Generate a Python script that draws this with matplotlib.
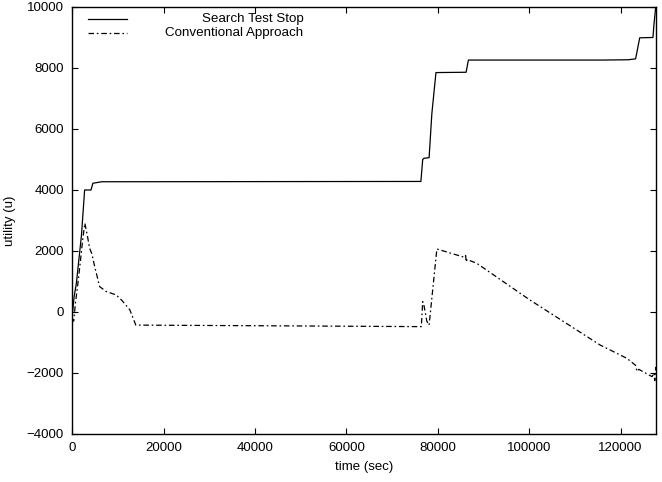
import matplotlib
matplotlib.use("Agg")
import matplotlib.pyplot as plt

plt.rcParams['font.family'] = ['Liberation Sans', 'DejaVu Sans']
plt.rcParams['lines.scale_dashes'] = False

# Search Test Stop (solid)
search_t = [0, 400, 900, 1500, 2000, 2700, 4100, 4500, 6400, 76300, 76700, 77000,
            78100, 78700, 79600, 86200, 86700, 116000, 121700, 123300, 124200,
            127100, 127300, 127700]
search_u = [-100, 500, 950, 1800, 2500, 4000, 4000, 4220, 4270, 4280, 5000, 5040,
            5060, 6500, 7850, 7860, 8260, 8260, 8270, 8300, 8990,
            9000, 9400, 10000]

# Conventional Approach (dash-dot)
conv_t = [0, 300, 700, 1200, 1800, 2300, 2750, 3300, 3800, 4300, 4900, 6000, 7450,
          9600, 10800, 12600, 13900, 40000, 76400, 76700, 77000, 77600, 78100,
          79800, 85900, 86100, 86200, 86400, 88500, 100200, 115500, 121400,
          123300, 123600, 124000, 126900, 127300, 127500, 127700]
conv_u = [-200, -300, 300, 900, 1700, 2400, 2910, 2500, 2090, 1900, 1490, 830, 670,
          560, 390, 70, -430, -450, -480, 340, 200, -300, -430,
          2066, 1790, 1850, 1640, 1720, 1600, 390, -1080, -1520,
          -1750, -1950, -1880, -2120, -2000, -2250, -1800]

fig = plt.figure(figsize=(6.62, 4.82), dpi=100)
ax = fig.add_axes([0.1092, 0.0996, 0.8813, 0.8859])

ax.plot(search_t, search_u, color='black', lw=0.9)
ax.plot(conv_t, conv_u, color='black', lw=0.9, dashes=(4, 2, 1.2, 2))

ax.set_xlim(0, 127700)
ax.set_ylim(-4000, 10000)
ax.set_xticks(range(0, 120001, 20000))
ax.set_yticks(range(-4000, 10001, 2000))
ax.tick_params(direction='in', length=4.3, width=0.8, top=True, right=True,
               labelsize=9.5, pad=6)
for s in ax.spines.values():
    s.set_linewidth(1.0)

ax.set_xlabel('time (sec)', fontsize=9.5, labelpad=5)
ax.set_ylabel('utility (u)', fontsize=9.5)
ax.yaxis.set_label_coords(-0.096, 0.5)

# gnuplot-style key: sample on the left, right-aligned text
ax.plot([0.027, 0.093], [0.971, 0.971], transform=ax.transAxes, color='black', lw=0.9)
ax.plot([0.027, 0.093], [0.938, 0.938], transform=ax.transAxes, color='black', lw=0.9,
        dashes=(4, 2, 1.2, 2))
ax.text(0.396, 0.971, 'Search Test Stop', transform=ax.transAxes, ha='right',
        va='center', fontsize=9.6)
ax.text(0.396, 0.938, 'Conventional Approach', transform=ax.transAxes, ha='right',
        va='center', fontsize=9.6)

fig.savefig('out.png', dpi=100)
